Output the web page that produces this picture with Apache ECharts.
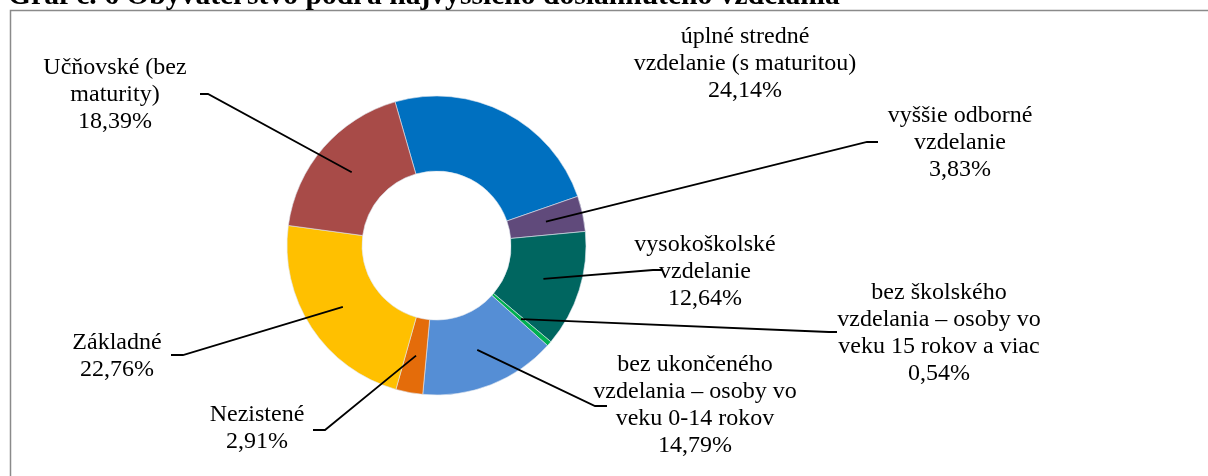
<!DOCTYPE html>
<html>
<head>
<meta charset="utf-8">
<title>Graf č. 6</title>
<script src="https://cdn.jsdelivr.net/npm/echarts@6/dist/echarts.min.js"></script>
<style>
    html, body { margin: 0; padding: 0; background: #fff; }
    #main { width: 1208px; height: 476px; }
</style>
</head>
<body>
<div id="main"></div>
<script>
// údaje grafu (v %)
var categories = [
    'úplné stredné\nvzdelanie (s maturitou)',
    'vyššie odborné\nvzdelanie',
    'vysokoškolské\nvzdelanie',
    'bez školského\nvzdelania – osoby vo\nveku 15 rokov a viac',
    'bez ukončeného\nvzdelania – osoby vo\nveku 0-14 rokov',
    'Nezistené',
    'Základné',
    'Učňovské (bez\nmaturity)'
];
var values = [24.14, 3.83, 12.64, 0.54, 14.79, 2.91, 22.76, 18.39];
var colors = ['#0070C0', '#604A7B', '#006660', '#00B050', '#558ED5', '#E46C0A', '#FFC000', '#A84B48'];

// rozloženie popiskov: [stred x, stred y, koniec čiary x, lom x, čiara y]
var labelPos = [
    [745, 64, null, null, null],
    [960, 143, 878, 867, 142],
    [705, 272, 663, 653, 270],
    [939, 333, 837, 829, 332],
    [695, 405, 607, 595, 406],
    [257, 428, 313, 325, 430],
    [117, 356, 171, 183, 355],
    [115, 95, 200, 208, 94]
];

var CX = 436.5, CY = 245.5, R0 = 74.5, R1 = 149.5;
var START = 106.1;

function anchorPoint(idx) {
    var total = 0, before = 0;
    for (var i = 0; i < values.length; i++) {
        total += values[i];
        if (i < idx) before += values[i];
    }
    var mid = (before + values[idx] / 2) / total * 360;
    var a = (START - mid) * Math.PI / 180;
    var rm = (R0 + R1) / 2;
    return [CX + rm * Math.cos(a), CY - rm * Math.sin(a)];
}

var myChart = echarts.init(document.getElementById('main'));
var option = {
    backgroundColor: '#fff',
    animation: false,
    graphic: [
        {
            type: 'rect',
            shape: { x: 10.5, y: 10.5, width: 1400, height: 700 },
            style: { fill: 'none', stroke: '#8a8a8a', lineWidth: 1.5 },
            z: -1
        },
        {
            type: 'text',
            left: 8,
            top: -19,
            style: {
                text: 'Graf č. 6 Obyvateľstvo podľa najvyššieho dosiahnutého vzdelania',
                font: 'bold 29.6px "Liberation Serif"',
                fill: '#000'
            }
        }
    ],
    series: [
        {
            // farebný prstenec
            type: 'pie',
            z: 2,
            center: [CX, CY],
            radius: [R0, R1],
            startAngle: START,
            clockwise: true,
            silent: true,
            label: { show: false },
            labelLine: { show: false },
            itemStyle: {
                borderColor: '#dfe6ee',
                borderWidth: 0.6
            },
            data: categories.map(function (name, i) {
                return { name: name, value: values[i], itemStyle: { color: colors[i] } };
            })
        },
        {
            // popisky s čiarami (nad prstencom)
            type: 'pie',
            z: 3,
            center: [CX, CY],
            radius: [R0, R1],
            startAngle: START,
            clockwise: true,
            silent: true,
            avoidLabelOverlap: false,
            itemStyle: { color: 'rgba(0,0,0,0)', borderWidth: 0 },
            label: {
                show: true,
                position: 'outside',
                fontFamily: 'Liberation Serif',
                fontSize: 24,
                lineHeight: 27,
                color: '#000',
                align: 'center',
                formatter: function (p) {
                    return p.name + '\n' + p.value.toFixed(2).replace('.', ',') + '%';
                }
            },
            labelLine: {
                show: true,
                smooth: false,
                lineStyle: { color: '#000', width: 1.8 }
            },
            labelLayout: function (params) {
                var i = params.dataIndex;
                var lp = labelPos[i];
                var res = { x: lp[0], y: lp[1], align: 'center', verticalAlign: 'middle' };
                if (lp[2] !== null) {
                    res.labelLinePoints = [anchorPoint(i), [lp[3], lp[4]], [lp[2], lp[4]]];
                }
                return res;
            },
            data: categories.map(function (name, i) {
                return {
                    name: name,
                    value: values[i],
                    labelLine: { show: labelPos[i][2] !== null }
                };
            })
        }
    ]
};
myChart.setOption(option);
</script>
</body>
</html>
